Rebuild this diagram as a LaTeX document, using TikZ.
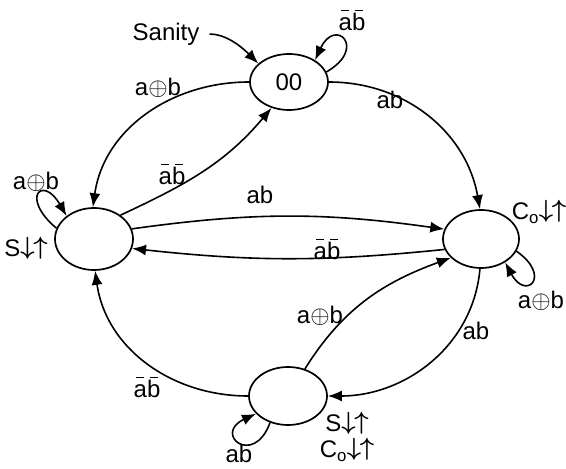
\documentclass[tikz,border=0pt]{standalone}
\usepackage{fontspec}
\setmainfont{Liberation Sans}
\usetikzlibrary{arrows.meta,shapes.geometric}
\newcommand{\ovl}[1]{\leavevmode\setbox0\hbox{#1}\rlap{\hbox to\wd0{\hss\raisebox{0.8em}{\rule{0.32em}{1.3pt}}\hss}}\box0}
\newcommand{\nab}{\ovl{a}\ovl{b}}
\newcommand{\xab}{a$\oplus$b}
\newcommand{\du}{\raisebox{0.08em}{$\boldsymbol{\downarrow}\mkern-1mu\boldsymbol{\uparrow}$}}
\usepackage{amsmath}
\begin{document}
\begin{tikzpicture}[x=1pt,y=1pt,
  state/.style={draw,ellipse,line width=1.7pt,inner sep=0pt},
  lbl/.style={font=\fontsize{24}{27}\selectfont,inner sep=0pt},
  arr/.style={line width=1.6pt,-{Latex[length=14pt,width=11pt]}}]
\useasboundingbox (0,0) rectangle (566,469);
\node[state,minimum width=78pt,minimum height=56pt] (n00) at (289,387) {\fontsize{24}{27}\selectfont 00};
\node[state,minimum width=78pt,minimum height=62pt] (nS) at (94,230) {};
\node[state,minimum width=76pt,minimum height=58pt] (nC) at (481,230) {};
\node[state,minimum width=78pt,minimum height=58pt] (nB) at (288,73) {};
% labels
\node[lbl] (sanity) at (166,435) {Sanity};
\node[lbl] (l1) at (352,449) {\nab};
\node[lbl] (l2) at (158,381) {\xab};
\node[lbl] (l3) at (390,369) {ab};
\node[lbl] (l4) at (172,295) {\nab};
\node[lbl] (l5) at (260,274) {ab};
\node[lbl] (l6) at (327,220) {\nab};
\node[lbl] (l7) at (36,287) {\xab};
\node[lbl] (l8) at (26,221) {S\du};
\node[lbl] (l9) at (539,257) {C\textsubscript{o}\du};
\node[lbl] (l10) at (541,168) {\xab};
\node[lbl] (l11) at (476,138) {ab};
\node[lbl] (l12) at (320,153) {\xab};
\node[lbl] (l13) at (147,82) {\nab};
\node[lbl] (l14) at (239,15) {ab};
\node[lbl] (l15) at (347,46) {S\du};
\node[lbl] (l16) at (347,19) {C\textsubscript{o}\du};
% connectors
\draw[arr,shorten <=10pt] (sanity.east) to[out=0,in=135] (n00.149);
\draw[arr] (n00.15) to[out=30,in=65,distance=48pt] (n00.40);
\draw[arr] (n00.180) to[out=180,in=82] (nS.92);
\draw[arr] (n00.0) to[out=0,in=100] (nC.92);
\draw[arr] (nS.42) to[out=25,in=230] (n00.236);
\draw[arr] (nS.15) to[bend left=8] (nC.165);
\draw[arr] (nC.196) to[bend left=6] (nS.-14);
\draw[arr] (nS.164) to[out=140,in=120,distance=48pt] (nS.140);
\draw[arr] (nC.-19) to[out=-35,in=-62,distance=44pt] (nC.-44);
\draw[arr] (nC.-92) to[out=-95,in=0] (nB.0);
\draw[arr] (nB.58) to[out=58,in=200] (nC.212);
\draw[arr] (nB.180) to[out=180,in=-82] (nS.-88);
\draw[arr] (nB.236) to[out=-110,in=205,distance=48pt] (nB.209);
\end{tikzpicture}
\end{document}
